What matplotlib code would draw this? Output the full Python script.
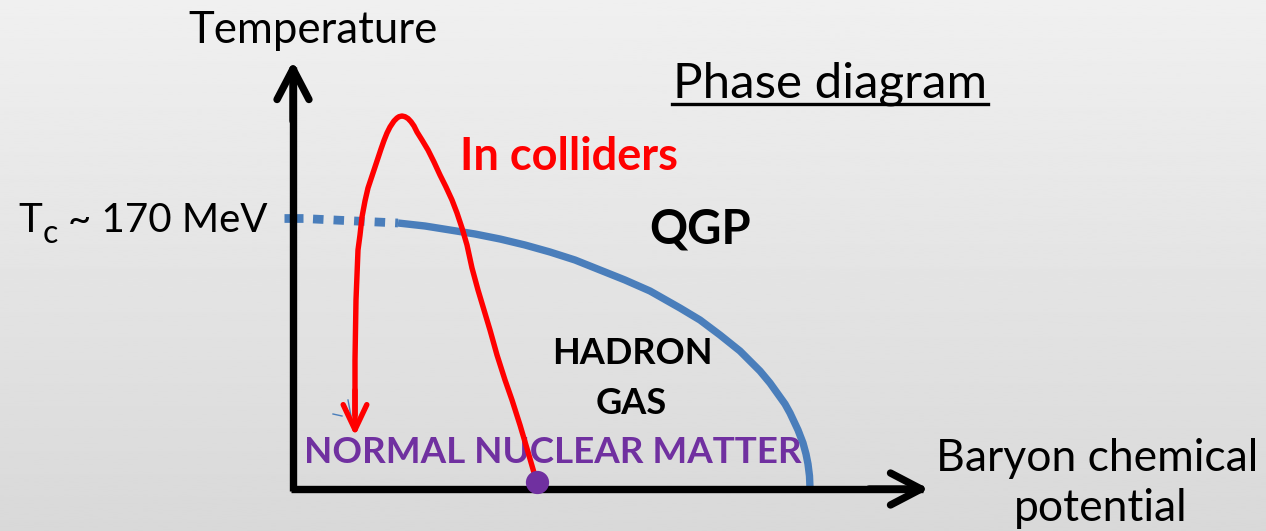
import numpy as np
import matplotlib.pyplot as plt

# Données (coordonnées en pixels, y vers le bas)
fond_haut, fond_bas = 0.94, 0.85

# repère de Tc sur l'axe, partie pointillée puis partie pleine de la frontière
repere_tc_x = [284, 303]
repere_tc_y = [218, 218]
frontiere_pointillee_x = [313, 398]
frontiere_pointillee_y = [219, 223]
frontiere_x = [398, 425, 450, 475, 500, 525, 550, 575, 600, 625, 650, 680, 700, 720,
               740, 760, 770, 780, 785, 790, 798, 803, 806, 808, 809.5, 810]
frontiere_y = [223, 226, 230, 234, 239, 245, 252, 260, 270, 280, 291, 308, 320, 335,
               351, 371, 383, 397, 404, 413, 430, 443, 454, 464, 476, 488]

# trajectoire "In colliders" (du point violet jusqu'à la flèche)
trajet_x = [537, 528, 520, 512, 505, 497, 490, 484, 478, 472, 467, 462, 457, 452,
            446, 440, 434, 428, 422, 417, 414, 411, 408, 405, 402, 399, 397, 394,
            390, 387, 384, 381, 378, 375, 372, 368, 365, 362, 360, 358, 357, 356,
            355.5, 355, 355, 355]
trajet_y = [483, 452, 425, 400, 380, 355, 330, 310, 290, 268, 245, 228, 213, 200,
            187, 175, 162, 150, 140, 132, 126, 121.7, 118.5, 116.7, 116, 116.7, 118,
            121, 127, 133, 140.5, 149, 158, 167, 176, 188, 201, 217, 235, 250, 275,
            300, 330, 360, 390, 415]
fleche_rouge_bout = (355, 436)

# petit trait bleu parasite près de la flèche rouge
parasite_x = [[333, 342], [348, 351]]
parasite_y = [[414, 416], [400, 416]]

point_x, point_y = 537, 482

# axes (origine, bout des flèches)
origine = (293, 489)
bout_y = (293, 61)
bout_x = (929, 489)

fig = plt.figure(figsize=(12.66, 5.31), dpi=100)
ax = fig.add_axes([0, 0, 1, 1])
ax.set_xlim(0, 1266)
ax.set_ylim(531, 0)
ax.axis('off')

# fond en dégradé gris
degrade = np.linspace(fond_haut, fond_bas, 256).reshape(-1, 1)
ax.imshow(degrade, cmap='gray', vmin=0, vmax=1, aspect='auto',
          extent=[0, 1266, 531, 0], zorder=0)

police = 'Lato'
bleu = '#4a7ebb'
rouge = '#ff0000'
violet = '#7030a0'
ep = 5.3  # épaisseur des traits (points)

# frontière de phase
ax.plot(repere_tc_x, repere_tc_y, color=bleu, lw=ep + 1, solid_capstyle='butt', zorder=2)
ax.plot(frontiere_pointillee_x, frontiere_pointillee_y, color=bleu, lw=ep + 1,
        linestyle=(0, (1.2, 1.15)), dash_capstyle='butt', zorder=2)
ax.plot(frontiere_x, frontiere_y, color=bleu, lw=ep, solid_capstyle='butt',
        solid_joinstyle='round', zorder=2)
for px, py in zip(parasite_x, parasite_y):
    ax.plot(px, py, color=bleu, lw=1, zorder=2)

# axes avec flèches ouvertes
ax.plot([origine[0], origine[0]], [origine[1] + 2, bout_y[1] + 6], color='k', lw=ep,
        solid_capstyle='butt', zorder=3)
ax.plot([origine[0] - 2, bout_x[0] - 6], [origine[1], origine[1]], color='k', lw=ep,
        solid_capstyle='butt', zorder=3)
for bout, debut in ((bout_y, (bout_y[0], bout_y[1] + 60)),
                    (bout_x, (bout_x[0] - 60, bout_x[1]))):
    ax.annotate('', xy=bout, xytext=debut,
                arrowprops=dict(arrowstyle='->,head_length=2.2,head_width=1.15',
                                color='k', lw=ep, capstyle='round',
                                joinstyle='round', shrinkA=0, shrinkB=0),
                zorder=3)

# trajectoire rouge
ax.plot(trajet_x, trajet_y, color=rouge, lw=3.9, solid_capstyle='round',
        solid_joinstyle='round', zorder=4)
ax.annotate('', xy=fleche_rouge_bout, xytext=(trajet_x[-2], trajet_y[-2]),
            arrowprops=dict(arrowstyle='->,head_length=1.8,head_width=0.85',
                            color=rouge, lw=3.9, shrinkA=0, shrinkB=0),
            zorder=4)
ax.scatter([point_x], [point_y], s=280, color=violet, zorder=5, linewidths=0)

# textes (positions verticales = lignes de base)
ax.text(313, 43, 'Temperature', fontsize=31.5, family=police, ha='center', va='baseline')
ax.text(830, 98, 'Phase diagram', fontsize=35.5, family=police, ha='center', va='baseline')
ax.plot([672, 988], [104, 104], color='k', lw=2.4)
ax.text(569, 170, 'In colliders', fontsize=32.5, family=police, weight='bold',
        color=rouge, ha='center', va='baseline')
ax.text(700, 243, 'QGP', fontsize=34, family=police, weight='bold', ha='center', va='baseline')
ax.text(18, 232, 'T', fontsize=29, family=police, ha='left', va='baseline')
ax.text(43, 243, 'c', fontsize=23, family=police, ha='left', va='baseline')
ax.text(268, 232, '~ 170 MeV', fontsize=29, family=police, ha='right', va='baseline')
ax.text(632, 364, 'HADRON', fontsize=26, family=police, weight='bold', ha='center', va='baseline')
ax.text(631, 414, 'GAS', fontsize=26, family=police, weight='bold', ha='center', va='baseline')
ax.text(553, 463, 'NORMAL NUCLEAR MATTER', fontsize=26.5, family=police, weight='bold',
        color=violet, ha='center', va='baseline', zorder=3)
ax.text(1097, 471, 'Baryon chemical', fontsize=32, family=police, ha='center', va='baseline')
ax.text(1101, 521, 'potential', fontsize=32, family=police, ha='center', va='baseline')

fig.savefig('out.png', dpi=100)
